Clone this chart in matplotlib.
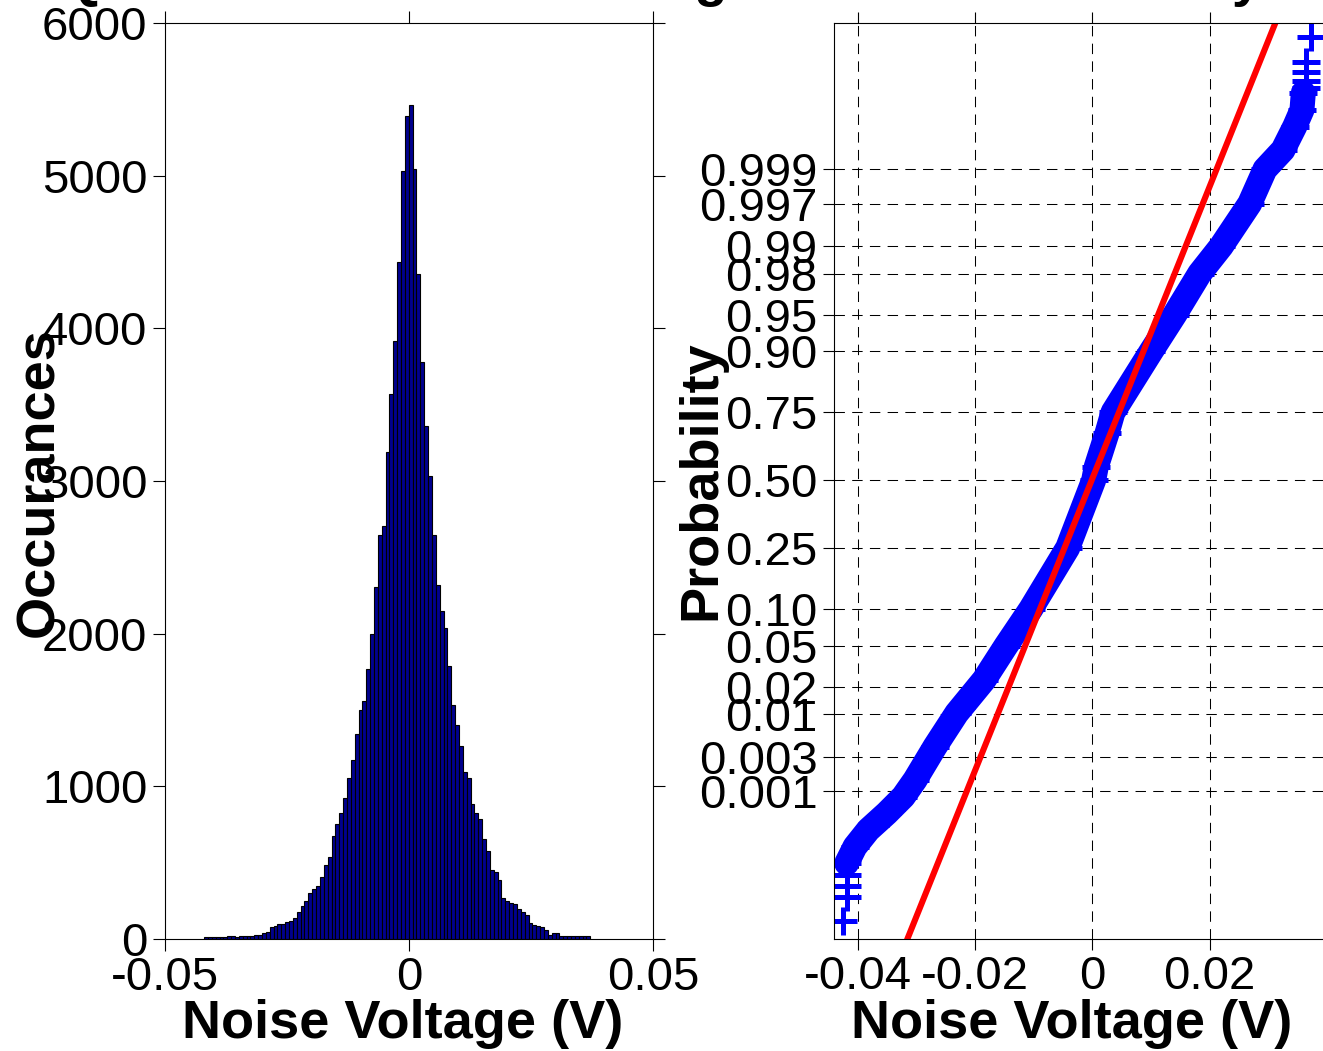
import matplotlib.pyplot as plt
import numpy as np
from statistics import NormalDist

plt.rcParams['font.family'] = ['Liberation Sans', 'DejaVu Sans']

# --- histogram of the noise voltage (100 bins) ---
hist_lo, hist_hi = -0.0420, 0.0371
hist_counts = [8, 10, 12, 10, 14, 12, 15, 16, 14, 18, 17, 20, 19, 22, 25,
               35, 42, 75, 82, 94, 98, 112, 118, 136, 177,
               214, 249, 297, 328, 345, 407, 483, 538, 673, 752,
               826, 922, 1056, 1172, 1342, 1499, 1558, 1768, 1998, 2304,
               2647, 2706, 3187, 3572, 3915, 4433, 5030, 5390, 5467, 5047,
               4357, 3782, 3357, 3034, 2647, 2319, 2149, 2033, 1786, 1534,
               1399, 1266, 1091, 1056, 883, 826, 785, 651, 575, 450,
               440, 385, 267, 245, 235, 228, 192, 173, 153, 100,
               92, 80, 76, 57, 25, 39, 39, 20, 18, 17,
               18, 16, 17, 15, 16]
hist_xticks = [-0.05, 0, 0.05]
hist_xlabels = ['-0.05', '0', '0.05']
hist_yticks = [0, 1000, 2000, 3000, 4000, 5000, 6000]

# --- normal probability plot (x in V, y as standard normal quantile) ---
band_x = [-0.04190, -0.04048, -0.03821, -0.03507, -0.03224, -0.03024,
          -0.02683, -0.02313, -0.01847, -0.01470, -0.01050, -0.00420,
          0.00024, 0.00068, 0.00251, 0.00353, 0.01006, 0.01406,
          0.01832, 0.02201, 0.02685, 0.02946, 0.03253, 0.03453,
          0.03577, 0.03600]
band_q = [-3.808, -3.643, -3.477, -3.311, -3.146, -2.980,
          -2.649, -2.317, -1.986, -1.645, -1.282, -0.674,
          0.000, 0.134, 0.466, 0.674, 1.282, 1.645,
          2.054, 2.326, 2.748, 3.090, 3.282, 3.514,
          3.680, 3.850]
tail_x = [-0.04190, -0.04190, -0.04190, -0.04248,
          0.03640, 0.03640, 0.03640, 0.03640, 0.03736]
tail_q = [-3.924, -4.034, -4.146, -4.379,
          3.896, 3.968, 4.061, 4.160, 4.403]
fit_x25, fit_x75 = -0.00475, 0.00455   # reference line at 25 % / 75 %
prob_ticks = [0.001, 0.003, 0.01, 0.02, 0.05, 0.10, 0.25, 0.50,
              0.75, 0.90, 0.95, 0.98, 0.99, 0.997, 0.999]
prob_labels = ['0.001', '0.003', '0.01', '0.02', '0.05', '0.10', '0.25', '0.50',
               '0.75', '0.90', '0.95', '0.98', '0.99', '0.997', '0.999']
npp_xticks = [-0.04, -0.02, 0, 0.02]
npp_xlabels = ['-0.04', '-0.02', '0', '0.02']

W, H = 1323, 1051
fig = plt.figure(figsize=(W / 100, H / 100), dpi=100)

tick_fs = 34
lab_fs = 39

# ---------------- histogram ----------------
ax1 = fig.add_axes([165 / W, 1 - 938.7 / H, 488.3 / W, 915.5 / H])
edges = np.linspace(hist_lo, hist_hi, len(hist_counts) + 1)
ax1.bar(edges[:-1], hist_counts, width=np.diff(edges), align='edge',
        color='#00008f', edgecolor='black', linewidth=0.8)
ax1.set_xlim(-0.05, 0.05)
ax1.set_ylim(0, 6000)
ax1.set_xticks(hist_xticks)
ax1.set_xticklabels(hist_xlabels)
ax1.set_yticks(hist_yticks)
ax1.tick_params(direction='out', length=8.6, width=0.8, top=True, right=True,
                labelsize=tick_fs, pad=4)
for s in ax1.spines.values():
    s.set_linewidth(0.8)
ax1.set_xlabel('Noise Voltage (V)', fontsize=lab_fs, fontweight='bold', va='baseline')
ax1.xaxis.set_label_coords(403 / W, 1 - 1038 / H, transform=fig.transFigure)
ax1.set_ylabel('Occurances', fontsize=lab_fs, fontweight='bold', va='baseline')
ax1.yaxis.set_label_coords(53 / W, 1 - 482 / H, transform=fig.transFigure)
ax1.set_title('Quantization Noise Voltage', fontsize=lab_fs, fontweight='bold', pad=19.5)

# ---------------- normal probability plot ----------------
ax2 = fig.add_axes([834.3 / W, 1 - 938.7 / H, 491 / W, 915.5 / H])
ax2.set_axisbelow(True)
ax2.plot(band_x, band_q, color='blue', lw=18, marker='+', ms=20, mew=3.6,
         solid_joinstyle='round', solid_capstyle='round')
ax2.plot(tail_x, tail_q, ls='none', color='blue', marker='+', ms=20, mew=3.6)
nd = NormalDist()
ax2.axline((fit_x25, nd.inv_cdf(0.25)), (fit_x75, nd.inv_cdf(0.75)),
           color='red', lw=4.4)
ax2.set_xlim(-0.04401, 0.03975)
ax2.set_ylim(-4.558, 4.542)
ax2.set_xticks(npp_xticks)
ax2.set_xticklabels(npp_xlabels)
ax2.set_yticks([nd.inv_cdf(p) for p in prob_ticks])
ax2.set_yticklabels(prob_labels)
ax2.tick_params(direction='out', length=8, width=0.8, top=True,
                labelsize=tick_fs, pad=4)
ax2.grid(True, color='black', lw=0.75, ls=(0, (10, 7)))
for s in ax2.spines.values():
    s.set_linewidth(0.8)
ax2.spines['right'].set_visible(False)
ax2.set_xlabel('Noise Voltage (V)', fontsize=lab_fs, fontweight='bold', va='baseline')
ax2.xaxis.set_label_coords(1072 / W, 1 - 1038 / H, transform=fig.transFigure)
ax2.set_ylabel('Probability', fontsize=lab_fs, fontweight='bold', va='baseline')
ax2.yaxis.set_label_coords(715 / W, 1 - 480 / H, transform=fig.transFigure)
ax2.set_title('Normal Probability Plot', fontsize=lab_fs, fontweight='bold', pad=19.5)

fig.savefig('out.png', dpi=100)
